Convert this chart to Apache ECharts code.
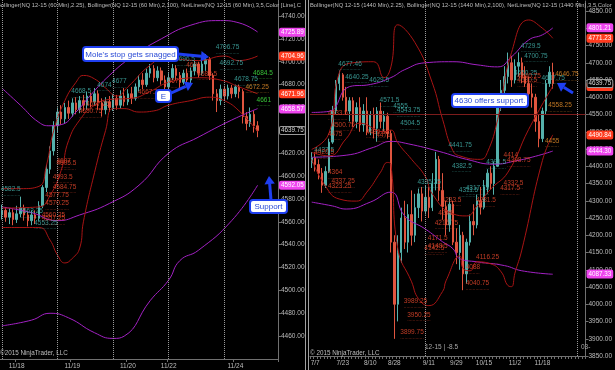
<!DOCTYPE html>
<html><head><meta charset="utf-8">
<script src="https://cdn.jsdelivr.net/npm/echarts@6/dist/echarts.min.js"></script>
<style>html,body{margin:0;padding:0;background:#000;overflow:hidden}#c{width:615px;height:370px}</style>
</head><body><div id="c"></div>
<script>
// ---------- LEFT PANEL (60 min) ----------
const leftCats = []; for (let i = 0; i < 75; i++) leftCats.push('L' + i);
const leftTickIdx = [4, 19, 34, 45, 63];
const leftTickText = ['11/18', '11/19', '11/20', '11/22', '11/24'];
const leftSessionIdx = [0, 15, 30, 45, 60];
// [open, close, low, high]
const leftOHLC = [
[4566,4570,4562,4575],[4570,4564,4560,4573],[4564,4568,4558,4572],[4568,4562,4557,4571],[4562,4567,4559,4574],
[4567,4572,4564,4582],[4572,4566,4561,4575],[4566,4561,4556,4569],[4561,4566,4557,4570],[4566,4563,4558,4570],
[4563,4574,4561,4578],[4574,4590,4572,4592],[4590,4606,4586,4610],[4606,4622,4602,4626],[4622,4644,4618,4648],
[4644,4656,4638,4660],[4656,4650,4645,4662],[4650,4660,4646,4664],[4660,4655,4650,4666],[4655,4664,4652,4668],
[4664,4658,4654,4669],[4658,4666,4655,4670],[4666,4662,4657,4671],[4662,4670,4658,4674],[4670,4665,4660,4673],
[4665,4672,4662,4677],[4672,4664,4658,4675],[4664,4658,4652,4668],[4658,4665,4654,4669],[4665,4660,4656,4670],
[4660,4668,4657,4672],[4668,4662,4658,4671],[4662,4670,4659,4675],[4670,4665,4661,4677],[4665,4672,4662,4676],
[4672,4668,4663,4678],[4668,4678,4666,4681],[4678,4684,4674,4688],[4684,4680,4676,4690],[4680,4690,4678,4694],
[4690,4694,4686,4698],[4694,4686,4682,4697],[4686,4692,4683,4696],[4692,4684,4680,4695],[4684,4678,4675,4688],
[4678,4686,4676,4690],[4686,4694,4684,4698],[4694,4688,4684,4697],[4688,4682,4677,4691],[4682,4690,4680,4693],
[4690,4684,4679,4694],[4684,4692,4681,4695],[4692,4698,4688,4701],[4698,4690,4686,4700],[4690,4698,4688,4702],
[4698,4702,4692,4706.75],[4702,4688,4684,4704],[4688,4672,4666,4690],[4672,4666,4656,4676],[4666,4676,4662,4680],
[4676,4670,4666,4679],[4670,4677,4667,4680],[4677,4672,4668,4679.75],[4672,4678,4669,4680],[4678,4674,4668,4680],
[4674,4652,4646,4676],[4652,4646,4640,4656],[4646,4654,4643,4660],[4654,4644,4638,4657],[4644,4639.75,4634,4648]
];
const leftPurpleUpper = [[0,4677],[5,4662],[10,4647],[13,4644],[16,4645],[20,4656],[24,4671],[29,4688],[35,4704],[43,4720],[51,4732],[59,4736],[64,4734],[69,4726]];
const leftPurpleMid = [[0,4573],[8,4568],[15,4561],[21,4566],[29,4576],[37,4592],[45,4620],[53,4634],[62,4649],[69,4659]];
const leftPurpleLower = [[0,4469],[8,4474],[13,4480],[18,4476],[25,4463],[30,4458],[33,4460],[40,4491],[45,4509],[48,4526],[53,4535],[62,4561],[69,4592]];
const leftRedUpper = [[0,4589],[5,4589],[10,4591],[12,4609],[14,4640],[17,4666],[20,4682],[22,4688],[25,4685],[28,4677],[31,4670],[34,4678],[40,4697],[44,4703],[53,4701],[60,4705],[64,4701],[69,4705]];
const leftRedMid = [[0,4572],[10,4573],[13,4583],[16,4605],[18,4631],[21,4649],[25,4662],[29,4667],[35,4668],[40,4674],[45,4682],[53,4686],[59,4684],[64,4678],[69,4672]];
const leftRedLower = [[0,4555],[10,4555],[13,4544],[15,4531],[17,4524],[19,4528],[21,4537],[22,4560],[25,4603],[28,4640],[30,4659],[33,4659],[37,4656],[41,4657],[45,4662],[51,4666],[56,4669],[60,4666],[64,4657],[69,4639]];
const leftNetText = ['4706.75','4696.5','4692.75','4678.75','4677','4674','4668.5','4582.5','4563.25','4553.25','4691','4683.5','4677','4667.25','4657.25','4650.75','4607','4605.5','4593.5','4584.75','4577.75','4570.25','4560.25','4557.25','4672.25','4684.5','4661'];
const leftNetIdx = [58,47,59,63,30,26,19,0,5,9,50,53,45,37,23,21,15,15,14,14,12,12,11,11,66,68,69];
const leftNetKind = ['c','c','c','c','c','c','c','c','c','c','r','r','r','r','r','r','r','r','r','r','r','r','r','r','o','g','g'];
const leftTagVal = [4725.89, 4704.96, 4671.96, 4658.57, 4639.75, 4592.05];
const leftTagKind = ['m','r','r','m','k','m'];

// ---------- RIGHT PANEL (1440 min) ----------
const rightCats = []; for (let i = 0; i < 80; i++) rightCats.push('R' + i);
const rightTickIdx = [1, 9, 17, 24, 34, 42, 50, 59, 67];
const rightTickText = ['7/7', '7/23', '8/10', '8/28', '9/11', '9/29', '10/15', '11/2', '11/18'];
const rightSessionIdx = [33, 77];
const rightSupportLevel = 4552;
const rightOHLC = [
[4410,4425,4395,4441],[4425,4405,4385,4440],[4405,4380,4362,4420],[4380,4345,4323,4395],[4345,4385,4337,4400],
[4385,4470,4380,4480],[4470,4560,4465,4575],[4560,4640,4550,4650],[4640,4665,4620,4677.5],[4665,4600,4590,4670],
[4600,4560,4550,4630],[4560,4590,4530,4600],[4590,4530,4515,4600],[4530,4570,4510,4585],[4570,4520,4500,4600],
[4520,4560,4500,4580],[4560,4500,4490,4600],[4500,4550,4490,4560],[4550,4510,4480.5,4570],[4510,4560,4471,4571.5],
[4560,4530,4510,4585],[4530,4545,4500,4560],[4545,4495,4480,4555],[4495,4180,4150,4504.5],[4180,4000,3899.75,4200],
[4000,4150,3950.25,4200],[4150,4250,4120,4280],[4250,4180,4160,4300],[4180,4260,4150,4290],[4260,4200,4170,4330],
[4200,4280,4180,4320],[4280,4320,4250,4335.25],[4320,4270,4240,4340],[4270,4310,4260,4345],[4310,4280,4250,4340],
[4280,4350,4270,4380],[4350,4420,4330,4441.75],[4420,4330,4300,4430],[4330,4283.5,4245,4380],[4283,4230,4200,4300],
[4230,4290,4210,4310],[4290,4180,4171.5,4300],[4180,4150,4116.25,4220],[4150,4200,4100,4230],[4200,4088,4040.75,4210],
[4088,4180,4060,4190],[4180,4240,4170,4260],[4240,4230,4200,4290],[4230,4300,4220,4317.75],[4300,4281.5,4260,4340],
[4281,4340,4275,4360],[4340,4380,4320,4391.5],[4380,4350,4332.5,4400],[4350,4400,4317.5,4414],[4400,4570,4398.75,4580],
[4570,4620,4560,4650],[4620,4660,4600,4690],[4660,4700,4640,4729.5],[4700,4650.25,4630,4720],[4650,4690,4640,4710],
[4690,4700.75,4660,4730],[4700,4660,4640.75,4715],[4660,4640,4630,4690],[4640,4610,4590,4660],[4610,4600,4570,4640],
[4600,4530,4500,4610],[4530,4480,4455,4550],[4480,4560,4470,4570],[4560,4640,4550,4650],[4640,4672.75,4630,4690],
[4672,4639.75,4625,4700]
];
const rightRedUpper = [[0,4449],[5,4495],[8,4671],[12,4700],[18,4703],[21,4657],[23,4688],[25,4810],[30,4758],[35,4642],[38,4536],[41,4445],[43,4430],[49,4420],[51,4440],[54,4536],[58,4729],[63,4824],[67,4800],[70,4771]];
const rightRedMid = [[0,4440],[5,4430],[10,4480],[14,4525],[21,4500],[23,4505],[25,4468],[29,4420],[33,4370],[35,4320],[41,4262],[45,4256],[48,4285],[52,4334],[57,4383],[63,4507],[70,4632]];
const rightRedLower = [[0,4420],[4,4342],[8,4305],[13,4299],[16,4325],[20,4383],[22,4411],[23,4405],[25,4161],[29,4065],[31,4016],[34,3996],[38,4037],[39,4068],[43,4140],[44,4103],[46,4097],[48,4123],[52,4117],[55,4094],[57,4054],[58,4051],[59,4090],[61,4157],[67,4417],[70,4491]];
const rightPurpleUpper = [[0,4556],[5,4559],[11,4631],[17,4637],[23,4657],[27,4680],[33,4700],[41,4703],[48,4694],[54,4688],[58,4717],[63,4766],[67,4781],[70,4801]];
const rightPurpleMid = [[0,4426],[10,4432],[18,4455],[23,4472],[28,4465],[37,4443],[45,4420],[53,4406],[59,4415],[65,4429],[70,4444]];
const rightPurpleLower = [[0,4296],[6,4285],[10,4276],[17,4296],[23,4325],[27,4256],[33,4218],[38,4181],[41,4161],[43,4132],[48,4123],[56,4112],[61,4097],[70,4087]];
const rightNetText = ['4677.46','4640.25','4629.5','4571.5','4555','4543.75','4504.5','4441.75','4382.5','4335.25','4311.5','4317.75','4391.5','4427.5','4729.5','4700.75','4650.25','4637.75',
 '4533.5','4500.75','4475','4480.5','4471','4420.5','4364','4337.25','4323.25','4283.5','4245','4216.75','4171.5','4148.5','4142.5','4116.25','4088','4040.75','3989.25','3950.25','3899.75','4414','4398.75','4332.5','4317.5','4281.5','4640.75','4630.5',
 '4646.75','4558.25','4455'];
const rightNetIdx = [8,10,17,20,24,25,26,40,41,31,43,45,51,1,61,62,59,67,
 5,6,5,16,19,1,5,6,5,38,37,36,34,34,33,48,45,45,27,28,26,56,57,56,55,48,60,60,
 71,69,68];
const rightNetKind = ['c','c','c','c','c','c','c','c','c','c','c','c','c','c','c','c','c','c',
 'r','r','r','r','r','r','r','r','r','r','r','r','r','r','r','r','r','r','r','r','r','r','r','r','r','r','r','r',
 'o','o','o'];
const rightTagVal = [4801.21, 4771.23, 4631.5, 4639.75, 4490.84, 4444.30, 4087.33];
const rightTagKind = ['m','r','r','k','r','m','m'];

// ---------- styling ----------
const FONT = 'Liberation Sans';
const KC = {c:'#45b8b2', r:'#ee4a2e', g:'#44ee44', o:'#e8902a'};
const TAG = {m:{bg:'#ee44ee', fg:'#ffffff', bd:'#ee44ee'}, r:{bg:'#ff3b1f', fg:'#ffffff', bd:'#ff3b1f'}, k:{bg:'#000000', fg:'#d8d8d8', bd:'#9a9a9a'}};
const AX = '#707070', LBL = '#bcbcbc';

function tickFns(idx, txt){
  return {
    interval: (i) => idx.indexOf(i) >= 0,
    formatter: (v, i) => { const k = idx.indexOf(i); return k >= 0 ? txt[k] : ''; }
  };
}
function xAxisCfg(gi, cats, idx, txt, allTicks){
  const f = tickFns(idx, txt);
  return {gridIndex: gi, type: 'category', data: cats, boundaryGap: true,
    axisLine: {lineStyle: {color: AX}},
    axisTick: {show: true, interval: allTicks ? 0 : f.interval, length: 3, lineStyle: {color: AX}},
    axisLabel: {interval: f.interval, formatter: f.formatter, color: LBL, fontSize: 6.5, fontFamily: FONT, margin: 4},
    splitLine: {show: false}};
}
function yAxisCfg(gi, min, max, interval){
  return {gridIndex: gi, type: 'value', position: 'right', min, max, interval, scale: true,
    axisLine: {show: true, lineStyle: {color: AX}},
    axisTick: {show: true, length: 3, lineStyle: {color: AX}},
    axisLabel: {formatter: v => v.toFixed(2), color: LBL, fontSize: 6.5, fontFamily: FONT, margin: 3, showMinLabel: gi === 1, showMaxLabel: false},
    splitLine: {show: false}};
}
function bandSeries(gi, data, color){
  return {type: 'line', xAxisIndex: gi, yAxisIndex: gi, data, smooth: 0.5, symbol: 'none', silent: true, z: 4,
    lineStyle: {color, width: 1}};
}
function netSeries(gi, texts, idxs, kinds){
  return {type: 'scatter', xAxisIndex: gi, yAxisIndex: gi, symbolSize: 0, silent: true, z: 6,
    data: texts.map((t, k) => ({
      value: [idxs[k], parseFloat(t)],
      label: {show: true, position: [-1, -10],
        formatter: '{t|' + t + '}\n{d|' + '.'.repeat(Math.round(t.length * 2.4)) + '}',
        rich: {t: {color: KC[kinds[k]], fontSize: 6.5, lineHeight: 7, fontFamily: FONT},
               d: {color: KC[kinds[k]], fontSize: 5, lineHeight: 3, fontFamily: FONT}}}
    }))};
}
function markers(cats, sessionIdx, tagVals, tagKinds, extraLines){
  const data = [];
  sessionIdx.forEach(i => data.push({xAxis: cats[i], lineStyle: {type: 'dotted', color: '#9a9a9a', width: 1}, label: {show: false}}));
  (extraLines || []).forEach(v => data.push({yAxis: v, lineStyle: {type: 'solid', color: '#7c1c1c', width: 1}, label: {show: false}}));
  tagVals.forEach((v, k) => {
    const s = TAG[tagKinds[k]];
    data.push({yAxis: v, lineStyle: {color: 'rgba(0,0,0,0)', width: 0},
      label: {show: true, opacity: 1, position: 'end', distance: 2, formatter: v.toFixed(2), color: s.fg, backgroundColor: s.bg,
        borderColor: s.bd, borderWidth: 1, borderRadius: 1, padding: [1, 1, 0, 1], fontSize: 6.3, fontFamily: FONT}});
  });
  return {silent: true, symbol: ['none', 'none'], animation: false, data};
}
function candleSeries(gi, data, mk){
  return {type: 'candlestick', xAxisIndex: gi, yAxisIndex: gi, data, barWidth: '55%', clip: false, z: 3,
    itemStyle: {color: '#55b1ac', color0: '#e0553f', borderColor: '#55b1ac', borderColor0: '#e0553f', borderWidth: 1},
    markLine: mk};
}

const PURPLE = '#a321c4', RED = '#a81414';
const option = {
  backgroundColor: '#000000',
  animation: false,
  grid: [
    {left: 0, top: 0, width: 278, height: 359},
    {left: 310, top: 1, width: 278, height: 355}
  ],
  xAxis: [
    xAxisCfg(0, leftCats, leftTickIdx, leftTickText, false),
    xAxisCfg(1, rightCats, rightTickIdx, rightTickText, true)
  ],
  yAxis: [
    yAxisCfg(0, 4440, 4754, 20),
    yAxisCfg(1, 3850, 4879, 50)
  ],
  series: [
    candleSeries(0, leftOHLC, markers(leftCats, leftSessionIdx, leftTagVal, leftTagKind)),
    bandSeries(0, leftPurpleUpper, PURPLE), bandSeries(0, leftPurpleMid, PURPLE), bandSeries(0, leftPurpleLower, PURPLE),
    bandSeries(0, leftRedUpper, RED), bandSeries(0, leftRedMid, RED), bandSeries(0, leftRedLower, RED),
    netSeries(0, leftNetText, leftNetIdx, leftNetKind),
    candleSeries(1, rightOHLC, markers(rightCats, rightSessionIdx, rightTagVal, rightTagKind, [rightSupportLevel])),
    bandSeries(1, rightPurpleUpper, PURPLE), bandSeries(1, rightPurpleMid, PURPLE), bandSeries(1, rightPurpleLower, PURPLE),
    bandSeries(1, rightRedUpper, RED), bandSeries(1, rightRedMid, RED), bandSeries(1, rightRedLower, RED),
    netSeries(1, rightNetText, rightNetIdx, rightNetKind)
  ]
};

// ---------- annotations ----------
const BLUE = '#1f3ff0';
function arrow(x1, y1, x2, y2, w, h){
  const dx = x2 - x1, dy = y2 - y1, L = Math.hypot(dx, dy), ux = dx / L, uy = dy / L, px = -uy, py = ux;
  const bx = x2 - ux * h, by = y2 - uy * h;
  return [
    {type: 'line', z: 100, shape: {x1, y1, x2: bx, y2: by}, style: {stroke: BLUE, lineWidth: w}},
    {type: 'polygon', z: 100, shape: {points: [[x2, y2], [bx + px * h * 0.65, by + py * h * 0.65], [bx - px * h * 0.65, by - py * h * 0.65]]}, style: {fill: BLUE}}
  ];
}
function callout(x, y, w, h, text){
  return [
    {type: 'rect', z: 101, shape: {x, y, width: w, height: h, r: 3}, style: {fill: '#ffffff', stroke: BLUE, lineWidth: 2}},
    {type: 'text', z: 102, x: x + w / 2, y: y + h / 2 + 0.5, style: {text, fill: '#2a4bd6', fontSize: 8, fontFamily: FONT, align: 'center', verticalAlign: 'middle'}}
  ];
}
function txt(x, y, text, size, fill){
  return {type: 'text', z: 50, x, y, style: {text, fill: fill || '#bdbdbd', fontSize: size, fontFamily: FONT, verticalAlign: 'middle'}};
}
const graphics = [
  {type: 'rect', z: 40, shape: {x: 305, y: 0, width: 1, height: 370}, style: {fill: '#a0a0a0'}},
  {type: 'rect', z: 40, shape: {x: 308, y: 0, width: 1, height: 370}, style: {fill: '#a0a0a0'}},
  txt(-3, 5, 'Bollinger(NQ 12-15 (60 Min),2.25), Bollinger(NQ 12-15 (60 Min),2,100), NetLines(NQ 12-15 (60 Min),3,5,Color [Line],C', 5.8),
  txt(310, 5, 'Bollinger(NQ 12-15 (1440 Min),2.25), Bollinger(NQ 12-15 (1440 Min),2,100), NetLines(NQ 12-15 (1440 Min),3,5,Color', 5.8),
  txt(0, 353, '\u00a92015 NinjaTrader, LLC', 6.3),
  txt(310, 353, '\u00a9 2015 NinjaTrader, LLC', 6.3),
  txt(425, 347, '12-15 | -8.5', 6.5, '#a8a8a8'),
  txt(581, 347, '03-', 6.5, '#a8a8a8'),
  ...arrow(178, 54, 209, 57, 3, 8),
  ...callout(83, 47, 95, 14, "Mole's stop gets snagged"),
  ...arrow(169, 94, 193, 83, 3, 8),
  ...callout(156, 90, 15, 12, 'E'),
  ...arrow(271, 200, 269, 176, 3, 8),
  ...callout(250, 200, 37, 13, 'Support'),
  ...callout(452, 94, 76, 13, '4630 offers support.'),
  ...arrow(573, 93, 557, 83, 3, 8)
];
option.graphic = graphics;

const chart = echarts.init(document.getElementById('c'), null, {renderer: 'canvas'});
chart.setOption(option);
</script></body></html>
